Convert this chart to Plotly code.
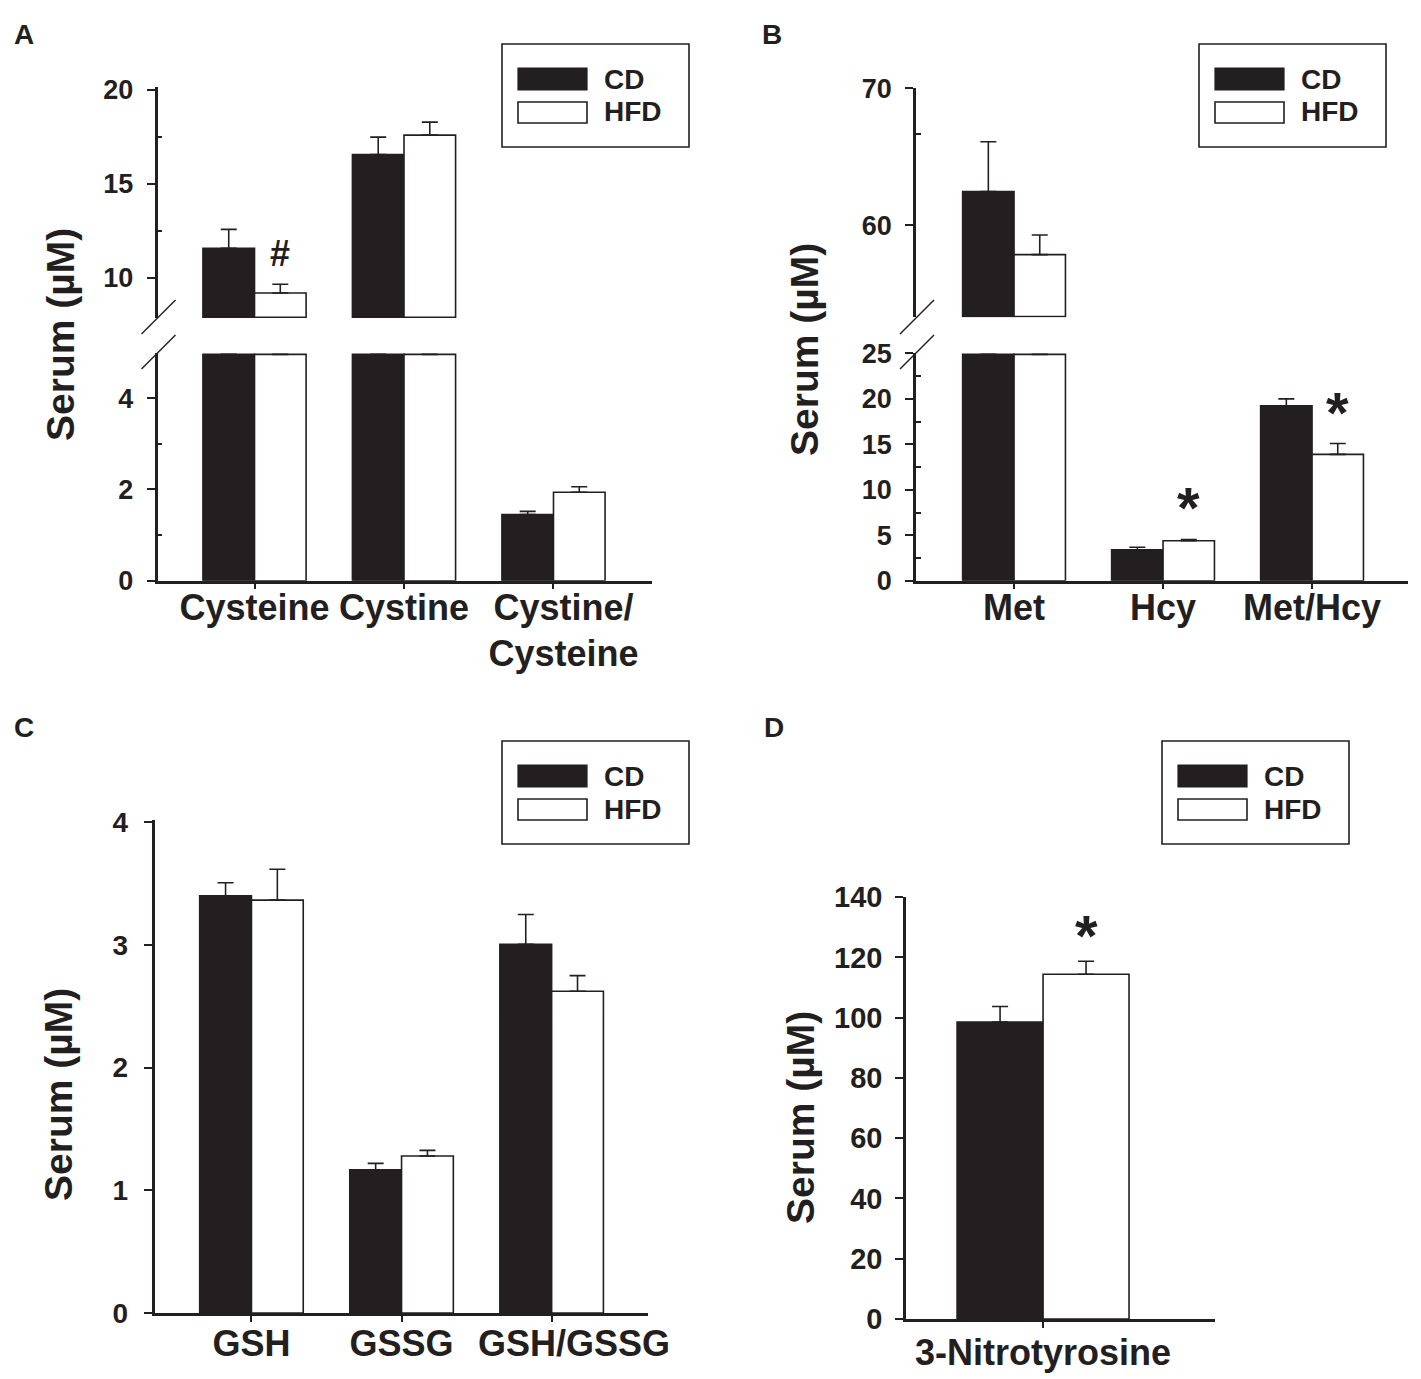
import plotly.graph_objects as go

W, H = 1421, 1379
OFF = 8  # the page body margin
INK = "#231f20"
FONT = "Liberation Sans, Arial, sans-serif"
NB = "\u00a0"

# panel A (two-part axis)
cat_a = ["Cysteine", "Cystine", "Cystine/Cysteine"]
lab_a = ["Cysteine", "Cystine", NB * 2 + "Cystine/<br>" + NB * 2 + "Cysteine"]
cd_a = [11.56, 16.55, 1.45]
cd_a_top = [12.57, 17.47, 1.52]      # mean + SEM
hfd_a = [9.19, 17.58, 1.94]
hfd_a_top = [9.65, 18.27, 2.06]

# panel B (two-part axis)
cat_b = ["Met", "Hcy", "Met/Hcy"]
lab_b = ["Met", "Hcy", "Met/Hcy"]
cd_b = [62.47, 3.40, 19.25]
cd_b_top = [66.1, 3.68, 20.0]
hfd_b = [57.87, 4.39, 13.9]
hfd_b_top = [59.3, 4.53, 15.1]

# panel C (last label is drawn off-centre, as in the original)
cat_c = ["GSH", "GSSG", "GSH/GSSG"]
lab_c = ["GSH", "GSSG", ""]
cd_c = [3.40, 1.166, 3.004]
cd_c_top = [3.505, 1.219, 3.247]
hfd_c = [3.364, 1.279, 2.622]
hfd_c_top = [3.615, 1.325, 2.749]

# panel D
cat_d = ["3-Nitrotyrosine"]
lab_d = ["3-Nitrotyrosine"]
cd_d = [98.5]
cd_d_top = [103.7]
hfd_d = [114.4]
hfd_d_top = [118.7]

# significance marks: x axis, y axis, category index, text, y value
marks = [
    ("x", "y2", 0, "#", 11.3),
    ("x2", "y3", 1, "*", 8.1),
    ("x2", "y3", 2, "*", 18.45),
    ("x4", "y6", 0, "*", 127.1),
]


def fx(p):
    return (p - OFF) / W


def fy(p):
    return 1 - (p - OFF) / H


def bars(cats, vals, tops, fill, xa, ya, lo=None, hi=None):
    y, err = [], []
    for v, t in zip(vals, tops):
        if lo is not None:
            y.append(v - lo if v > lo else None)
            err.append(t - v if v > lo else None)
        elif hi is not None:
            y.append(min(v, hi))
            err.append(t - v if t < hi else None)
        else:
            y.append(v)
            err.append(t - v)
    return go.Bar(
        x=cats, y=y, base=lo, xaxis=xa, yaxis=ya,
        marker=dict(color=fill, line=dict(color=INK, width=1.6)),
        error_y=dict(type="data", symmetric=False, array=err,
                     arrayminus=[0] * len(err), color=INK,
                     thickness=1.6, width=8),
        showlegend=False, hoverinfo="skip",
    )


fig = go.Figure()

# A
for lo, hi, ya in [(None, 4.96, "y"), (7.9, None, "y2")]:
    fig.add_trace(bars(cat_a, cd_a, cd_a_top, INK, "x", ya, lo, hi))
    fig.add_trace(bars(cat_a, hfd_a, hfd_a_top, "white", "x", ya, lo, hi))
# B
for lo, hi, ya in [(None, 24.9, "y3"), (53.35, None, "y4")]:
    fig.add_trace(bars(cat_b, cd_b, cd_b_top, INK, "x2", ya, lo, hi))
    fig.add_trace(bars(cat_b, hfd_b, hfd_b_top, "white", "x2", ya, lo, hi))
# C
fig.add_trace(bars(cat_c, cd_c, cd_c_top, INK, "x3", "y5"))
fig.add_trace(bars(cat_c, hfd_c, hfd_c_top, "white", "x3", "y5"))
# D
fig.add_trace(bars(cat_d, cd_d, cd_d_top, INK, "x4", "y6"))
fig.add_trace(bars(cat_d, hfd_d, hfd_d_top, "white", "x4", "y6"))


def xax(px0, px1, rng, cats, labels, anchor, standoff):
    return dict(
        domain=[fx(px0), fx(px1)], range=rng, type="category",
        categoryorder="array", categoryarray=cats, anchor=anchor,
        tickmode="array", tickvals=cats, ticktext=labels, tickangle=0,
        showline=True, linewidth=2.5, linecolor=INK,
        ticks="outside", ticklen=6, tickwidth=2, tickcolor=INK,
        tickfont=dict(size=36, family=FONT, color=INK, weight="bold"),
        ticklabelstandoff=standoff,
        showgrid=False, zeroline=False, fixedrange=True, automargin=False,
    )


def yax(py0, py1, rng, tickvals, minor_vals, anchor, standoff, size=27):
    d = dict(
        domain=[fy(py1), fy(py0)], range=rng, anchor=anchor,
        tickmode="array", tickvals=tickvals,
        ticktext=[str(v) for v in tickvals],
        showline=True, linewidth=2.5, linecolor=INK,
        ticks="outside", ticklen=8, tickwidth=2, tickcolor=INK,
        tickfont=dict(size=size, family=FONT, color=INK, weight="bold"),
        ticklabelstandoff=standoff,
        showgrid=False, zeroline=False, fixedrange=True, automargin=False,
    )
    if minor_vals:
        d["minor"] = dict(tickmode="array", tickvals=minor_vals,
                          ticks="inside", ticklen=5, tickwidth=1.5,
                          tickcolor=INK, showgrid=False)
    return d


layout = dict(
    template="none",
    width=W, height=H, margin=dict(l=0, r=0, t=0, b=0, autoexpand=False),
    paper_bgcolor="white", plot_bgcolor="white",
    barmode="group", bargap=0.31, bargroupgap=0,
    font=dict(family=FONT, color=INK),
    xaxis=xax(157.5, 652, [-0.649, 2.659], cat_a, lab_a, "y", -13),
    yaxis=yax(353, 580.7, [0, 4.99], [0, 2, 4], [1, 3], "x", 8),
    yaxis2=yax(87.3, 318, [7.86, 20.12], [10, 15, 20], [12.5, 17.5], "x", 8),
    xaxis2=xax(916, 1408, [-0.658, 2.644], cat_b, lab_b, "y3", -13),
    yaxis3=yax(353, 580.7, [0, 25.05], [0, 5, 10, 15, 20, 25],
               [2.5, 7.5, 12.5, 17.5, 22.5], "x2", 8),
    yaxis4=yax(88, 317.3, [53.3, 70.02], [60, 70], [66.67], "x2", 8),
    xaxis3=xax(154.5, 648, [-0.646, 2.642], cat_c, lab_c, "y5", -9),
    yaxis5=yax(819.6, 1313, [0, 4.02], [0, 1, 2, 3, 4], None, "x3", 10, 28),
    xaxis4=xax(906, 1215, [-0.55, 0.69], cat_d, lab_d, "y6", -6),
    yaxis6=yax(896.5, 1319, [0, 140.2], [0, 20, 40, 60, 80, 100, 120, 140],
               None, "x4", 7, 29),
)
fig.update_layout(**layout)

ann = []
shapes = []

# the wide C label, nudged right of its tick
ann.append(dict(x=2, xref="x3", y=fy(1343), yref="paper", xshift=22,
                text=cat_c[2], showarrow=False, xanchor="center", yanchor="middle",
                font=dict(size=36, family=FONT, weight="bold", color=INK)))

# y titles
for x, y in [(60, 335), (804, 350), (58, 1095), (800, 1118)]:
    ann.append(dict(x=fx(x), y=fy(y), xref="paper", yref="paper",
                    xanchor="center", yanchor="middle",
                    text="Serum (\u00b5M)", textangle=-90, showarrow=False,
                    font=dict(size=39, weight="bold", color=INK)))

# panel letters
for t, x, y in [("A", 24, 34), ("B", 772, 34), ("C", 24, 728), ("D", 774, 728)]:
    ann.append(dict(x=fx(x), y=fy(y), xref="paper", yref="paper", text=t,
                    xanchor="center", yanchor="middle", showarrow=False,
                    font=dict(size=28, weight="bold", color=INK)))

# significance marks over the HFD bars
for xa, ya, i, t, y in marks:
    off = (1 - 0.31) / 4
    ann.append(dict(x=i + off, y=y, xref=xa, yref=ya, text=t, showarrow=False,
                    xanchor="center", yanchor="middle",
                    font=dict(size=58 if t == "*" else 36, weight="bold", color=INK)))

# legends (drawn box + swatches)
for dx, dy in [(0, 0), (697, 0), (0, 697), (660, 697)]:
    shapes.append(dict(type="rect", xref="paper", yref="paper",
                       x0=fx(502 + dx), x1=fx(689 + dx), y0=fy(44 + dy), y1=fy(147 + dy),
                       line=dict(color=INK, width=1.6)))
    shapes.append(dict(type="rect", xref="paper", yref="paper",
                       x0=fx(518 + dx), x1=fx(587 + dx), y0=fy(68 + dy), y1=fy(90 + dy),
                       fillcolor=INK, line=dict(color=INK, width=1.2)))
    shapes.append(dict(type="rect", xref="paper", yref="paper",
                       x0=fx(518 + dx), x1=fx(587 + dx), y0=fy(102 + dy), y1=fy(123 + dy),
                       fillcolor="white", line=dict(color=INK, width=1.6)))
    for t, yy in [("CD", 79), ("HFD", 112)]:
        ann.append(dict(x=fx(602 + dx), y=fy(yy + dy), xref="paper", yref="paper",
                        text=t, showarrow=False, xanchor="left", yanchor="middle",
                        font=dict(size=28, weight="bold", color=INK)))

# axis break slashes
for ax_x in [157.5, 916]:
    for yb in [318, 353]:
        shapes.append(dict(type="line", xref="paper", yref="paper",
                           x0=fx(ax_x - 16), y0=fy(yb + 16),
                           x1=fx(ax_x + 18), y1=fy(yb - 18),
                           line=dict(color=INK, width=1.5)))

fig.update_layout(annotations=ann, shapes=shapes)
fig.write_html("out.html")
